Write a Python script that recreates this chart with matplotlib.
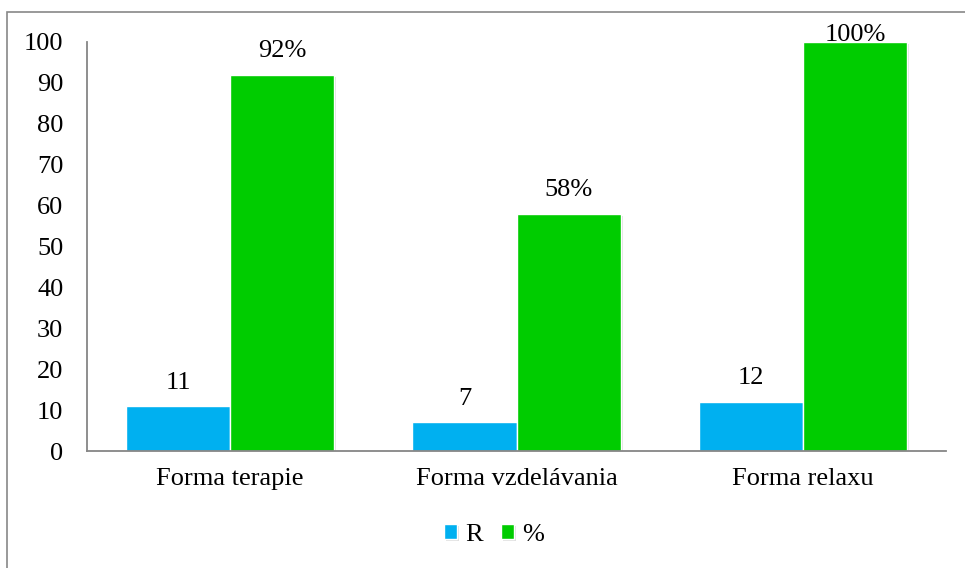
import numpy as np
import matplotlib
matplotlib.use("Agg")
import matplotlib.pyplot as plt
import matplotlib.patheffects as pe
from matplotlib.patches import Rectangle

categories = ["Forma terapie", "Forma vzdelávania", "Forma relaxu"]
r_values = [11, 7, 12]
pct_values = [92, 58, 100]
series_names = ["R", "%"]
colors = ["#00B0F0", "#00CC00"]

plt.rcParams['font.family'] = ['Liberation Serif', 'DejaVu Serif']
fs = 19

fig = plt.figure(figsize=(9.65, 5.68), dpi=100)
ax = fig.add_axes([87 / 965, 1 - 451 / 568, 859 / 965, 409 / 568])

# outer chart frame (cropped at the right and bottom like the original)
fig.patches.append(Rectangle((7 / 965, -0.05), 1.2, 1 - 12 / 568 + 0.05,
                             transform=fig.transFigure, fill=False,
                             edgecolor="#888888", linewidth=1.2))

x = np.arange(len(categories))
w = 0.3635
shadow = [pe.SimplePatchShadow(offset=(1.5, -1.5), shadow_rgbFace="#000000", alpha=0.12),
          pe.Normal()]

b1 = ax.bar(x - w / 2, r_values, w, color=colors[0], edgecolor="white",
            linewidth=1, label=series_names[0], path_effects=shadow)
b2 = ax.bar(x + w / 2, pct_values, w, color=colors[1], edgecolor="white",
            linewidth=1, label=series_names[1], path_effects=shadow)

for rect, v in zip(b1, r_values):
    ax.annotate(str(v), (rect.get_x() + rect.get_width() / 2, v),
                xytext=(0, 9), textcoords="offset points",
                ha="center", va="bottom", fontsize=fs)
for rect, v in zip(b2, pct_values):
    ax.annotate(f"{v}%", (rect.get_x() + rect.get_width() / 2, v),
                xytext=(0, 9 if v < 100 else -3), textcoords="offset points",
                ha="center", va="bottom", fontsize=fs)

ax.set_xlim(-0.5, len(categories) - 0.5)
ax.set_ylim(0, 100)
ax.set_yticks(np.arange(0, 101, 10))
ax.set_xticks(x)
ax.set_xticklabels(categories)
ax.tick_params(axis="both", length=0, labelsize=fs)
ax.tick_params(axis="y", pad=17)
ax.tick_params(axis="x", pad=12)

for s in ["top", "right"]:
    ax.spines[s].set_visible(False)
for s in ["left", "bottom"]:
    ax.spines[s].set_color("#868686")
    ax.spines[s].set_linewidth(1.3)

leg = fig.legend(loc="center", bbox_to_anchor=(494 / 965, 1 - 535 / 568),
                 ncol=2, frameon=False, fontsize=fs, handlelength=0.5,
                 handleheight=0.5, handletextpad=0.3, columnspacing=0.7)

fig.savefig("out.png", dpi=100)
